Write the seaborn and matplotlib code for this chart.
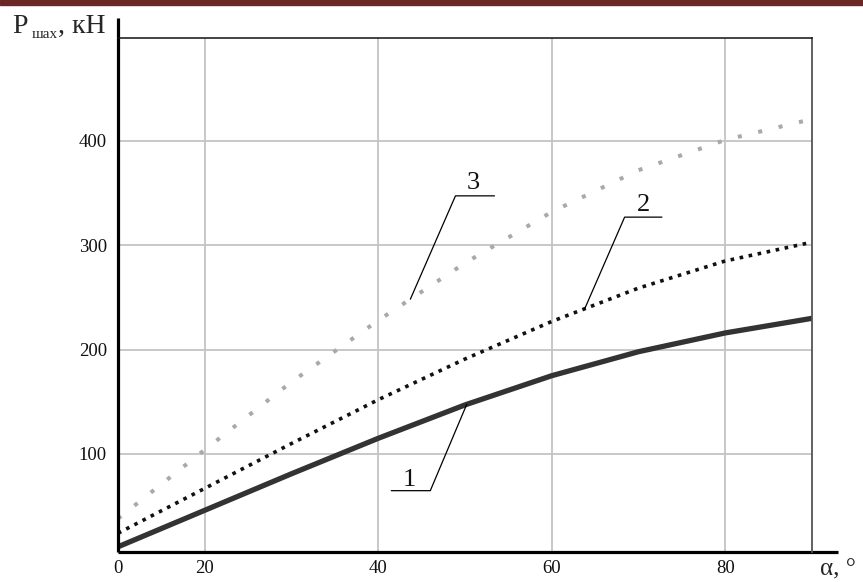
import numpy as np
import pandas as pd
import matplotlib
matplotlib.use("Agg")
import matplotlib.pyplot as plt
from matplotlib.patches import Rectangle
import seaborn as sns

# Force on the shaft P_max (kN) versus angle alpha (degrees), three cases
angle = [10, 20, 30, 40, 50, 60, 70, 80, 90]
force_1 = [11, 46, 81, 115, 147, 175, 198, 216, 230]
force_2 = [24, 67, 110, 152, 191, 227, 259, 285, 303]
force_3 = [38, 104, 169, 228, 283, 332, 372, 401, 421]

x_ticks = [10, 20, 40, 60, 80]
x_tick_labels = ["0", "20", "40", "60", "80"]
y_ticks = [100, 200, 300, 400]
curve_labels = ["1", "2", "3"]

sns.set_style("white")
plt.rcParams["font.family"] = ["Liberation Serif", "DejaVu Serif"]

W, H = 863, 582
fig = plt.figure(figsize=(W / 100, H / 100), dpi=100)
ax = fig.add_axes([118 / W, 1 - 551.7 / H, (812 - 118) / W, (551.7 - 37.7) / H])

df = pd.DataFrame({"angle": angle, "c1": force_1, "c2": force_2, "c3": force_3})

# curve 3: light grey, sparse square dots
sns.lineplot(data=df, x="angle", y="c3", ax=ax, color="#a9a9a9", lw=2.9)
ax.lines[-1].set_linestyle((0, (1, 4.2)))
ax.lines[-1].set_dash_capstyle("butt")
# curve 2: black, dense square dots
sns.lineplot(data=df, x="angle", y="c2", ax=ax, color="#111111", lw=2.6)
ax.lines[-1].set_linestyle((0, (1, 1.55)))
ax.lines[-1].set_dash_capstyle("butt")
# curve 1: thick dark solid line
sns.lineplot(data=df, x="angle", y="c1", ax=ax, color="#333333", lw=3.8)
ax.lines[-1].set_solid_joinstyle("round")

ax.set_xlim(10, 90)
ax.set_ylim(6.3, 499)
ax.set_xticks(x_ticks)
ax.set_xticklabels(x_tick_labels)
ax.set_yticks(y_ticks)
ax.set_yticklabels([str(v) for v in y_ticks])
ax.tick_params(axis="both", length=0, labelsize=13.5, colors="#111111")
ax.tick_params(axis="y", pad=8)
ax.tick_params(axis="x", pad=6)
ax.set_xlabel("")
ax.set_ylabel("")
ax.grid(True, color="#c4c4c4", lw=1.3)
ax.set_axisbelow(True)

# frame: thin top, grey right, heavy extended left and bottom axes
ax.spines["left"].set_visible(False)
ax.spines["bottom"].set_visible(False)
ax.spines["top"].set_color("#111111")
ax.spines["top"].set_linewidth(1.1)
ax.spines["right"].set_color("#555555")
ax.spines["right"].set_linewidth(1.3)
ax.plot([0, 0], [0, (551.7 - 18) / (551.7 - 37.7)], transform=ax.transAxes,
        color="black", lw=2.3, clip_on=False, solid_capstyle="butt")
ax.plot([0, (838 - 118) / (812 - 118)], [0, 0], transform=ax.transAxes,
        color="black", lw=2.3, clip_on=False, solid_capstyle="butt")

# numbered leader callouts
series = [force_1, force_2, force_3]
leaders = [
    (50.2, (46.0, 64.8), 41.5, (43.6, 69.6)),
    (63.8, (68.4, 327.0), 72.7, (70.6, 332.9)),
    (43.7, (48.9, 347.4), 53.4, (51.0, 353.7)),
]
for lab, values, (ax_x, knee, end_x, txt) in zip(curve_labels, series, leaders):
    ay = np.interp(ax_x, angle, values)
    ax.plot([ax_x, knee[0], end_x], [ay, knee[1], knee[1]], color="black",
            lw=0.9, clip_on=False)
    ax.text(txt[0], txt[1], lab, ha="center", va="baseline", fontsize=19,
            color="#111111")

# axis titles
fig.text(12 / W, 1 - 33 / H, "P", fontsize=20, va="baseline", ha="left")
fig.text(32 / W, 1 - 38.3 / H, "шах", fontsize=11, va="baseline", ha="left")
fig.text(58 / W, 1 - 33 / H, ", кН", fontsize=20, va="baseline", ha="left")
fig.text(820 / W, 1 - 575 / H, "α, °", fontsize=18, va="baseline", ha="left")

# dark red band along the top edge
fig.patches.append(Rectangle((0, 1 - 4.5 / H), 1, 4.5 / H, transform=fig.transFigure,
                             color="#6b2626", zorder=10))

fig.savefig("out.png", dpi=100)
